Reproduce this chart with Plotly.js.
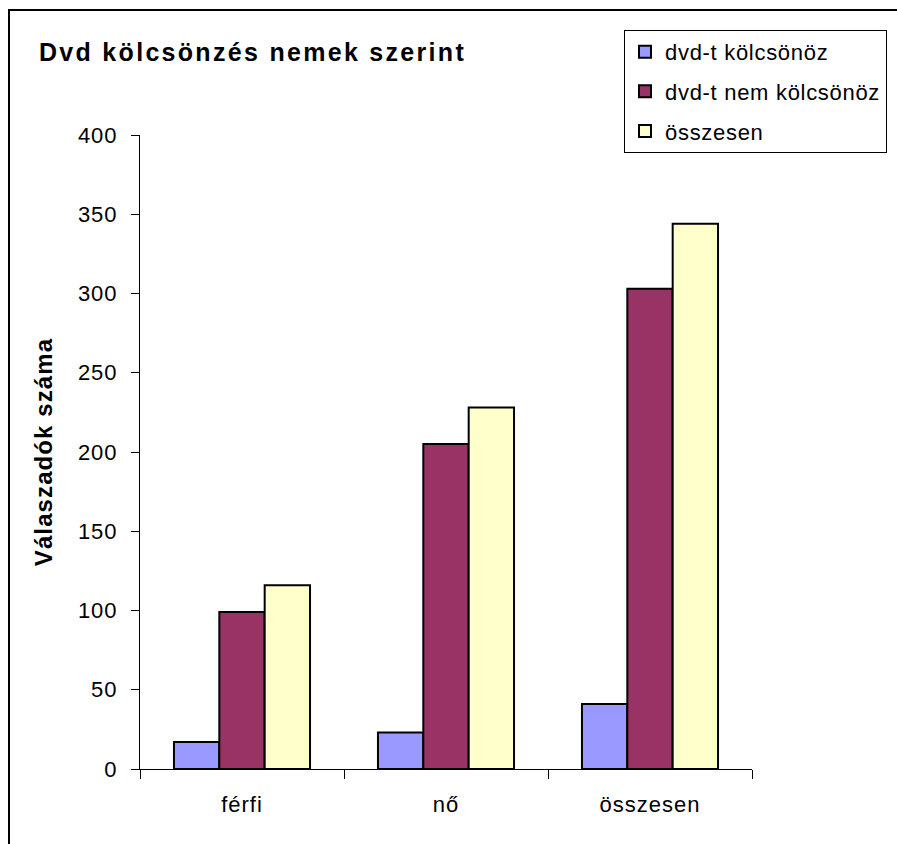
<!DOCTYPE html>
<html>
<head>
<meta charset="utf-8">
<script src="https://cdn.plot.ly/plotly-3.0.1.min.js"></script>
<style>
html,body{margin:0;padding:0;background:#fff;}
#chart{width:897px;height:844px;}
.gtitle{letter-spacing:2.3px;}
.ytitle{letter-spacing:1.1px;}
.xtick text, .ytick text{letter-spacing:1px;}
.legendtext{letter-spacing:0.7px;}
</style>
</head>
<body>
<div id="chart"></div>
<script>
const categories = ["férfi", "nő", "összesen"];
const seriesNames = ["dvd-t kölcsönöz", "dvd-t nem kölcsönöz", "összesen"];
const rents = [17, 23, 41];
const notRents = [99, 205, 303];
const totals = [116, 228, 344];
const yTicks = [0, 50, 100, 150, 200, 250, 300, 350, 400];

const colors = ["#9999FF", "#993366", "#FFFFCC"];
const values = [rents, notRents, totals];

const FONT = "Liberation Sans, Arial, sans-serif";

const traces = values.map((v, i) => ({
  type: "bar",
  name: seriesNames[i],
  x: categories,
  y: v,
  legendgroup: "g" + i,
  marker: { color: colors[i], line: { color: "#000", width: 2 } },
  hoverinfo: "x+y+name"
}));

const layout = {
  width: 897,
  height: 844,
  margin: { l: 140, r: 145, t: 135, b: 75, autoexpand: false },
  paper_bgcolor: "#fff",
  plot_bgcolor: "#fff",
  font: { family: FONT, color: "#000", size: 22 },
  barmode: "group",
  bargap: 0.333,
  bargroupgap: 0,
  title: {
    text: "<b>Dvd kölcsönzés nemek szerint</b>",
    font: { family: FONT, size: 25, color: "#000" },
    x: 39 / 897, xanchor: "left", xref: "container",
    y: 1 - 52 / 844, yanchor: "middle", yref: "container"
  },
  xaxis: {
    type: "category",
    tickson: "boundaries",
    ticks: "outside",
    ticklen: 9,
    tickwidth: 1,
    tickcolor: "#000",
    ticklabelstandoff: 16,
    showline: true,
    linecolor: "#000",
    linewidth: 1,
    showgrid: false,
    zeroline: false,
    tickfont: { family: FONT, size: 22, color: "#000" },
    fixedrange: true
  },
  yaxis: {
    range: [0, 400],
    tickvals: yTicks,
    ticktext: yTicks.map(String),
    ticks: "outside",
    ticklen: 8,
    tickwidth: 1,
    tickcolor: "#000",
    ticklabelstandoff: 9,
    showline: true,
    linecolor: "#000",
    linewidth: 1,
    showgrid: false,
    zeroline: false,
    tickfont: { family: FONT, size: 22, color: "#000" },
    title: { text: "<b>Válaszadók száma</b>", font: { family: FONT, size: 24, color: "#000" }, standoff: 18 },
    fixedrange: true
  },
  legend: {
    x: (624 - 140) / 612, xanchor: "left",
    y: (768.7 - 30) / 633.7, yanchor: "top",
    bordercolor: "#000", borderwidth: 1,
    bgcolor: "#fff",
    font: { family: FONT, size: 22, color: "#000" },
    traceorder: "grouped",
    tracegroupgap: 8
  },
  shapes: [{
    type: "rect", xref: "paper", yref: "paper",
    x0: (9 - 140) / 612, x1: 1.5,
    y0: -0.5, y1: (768.7 - 10) / 633.7,
    line: { color: "#000", width: 2 }, fillcolor: "rgba(0,0,0,0)", layer: "below"
  }],
  showlegend: true
};

Plotly.newPlot("chart", traces, layout, { displayModeBar: false, staticPlot: true });
</script>
</body>
</html>
